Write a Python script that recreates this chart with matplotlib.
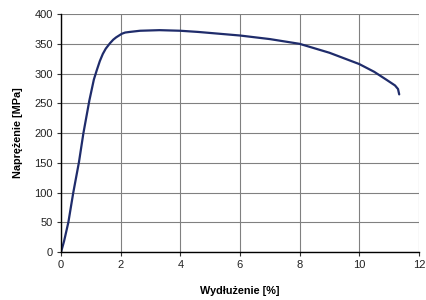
import matplotlib
matplotlib.use("Agg")
import matplotlib.pyplot as plt

plt.rcParams["font.family"] = ["Liberation Sans", "DejaVu Sans"]

# strain [%] and stress [MPa]
strain = [0.0, 0.1, 0.245, 0.41, 0.6, 0.75, 0.95, 1.1, 1.2, 1.3, 1.4, 1.5,
          1.64, 1.75, 1.85, 2.04, 2.15, 2.3, 2.65, 3.3, 4.0, 4.6, 5.3, 6.0,
          7.0, 8.0, 9.0, 10.0, 10.5, 10.9, 11.2, 11.3, 11.34]
stress = [0, 18, 50, 100, 151, 200, 255, 290, 306, 321, 333, 342,
          351, 357, 361, 367, 369, 370, 372, 373, 372, 370, 367, 364,
          358, 350, 335, 316, 303, 290, 280, 274, 265]

x_ticks = [0, 2, 4, 6, 8, 10, 12]
y_ticks = [0, 50, 100, 150, 200, 250, 300, 350, 400]

fig = plt.figure(figsize=(4.27, 3.0), dpi=100)
ax = fig.add_axes([0.143, 0.16, 0.838, 0.793])

ax.plot(strain, stress, color="#1f2c6b", lw=1.6, solid_capstyle="round",
        solid_joinstyle="round")

ax.set_xlim(0, 12)
ax.set_ylim(0, 400)
ax.set_xticks(x_ticks)
ax.set_yticks(y_ticks)
ax.grid(True, color="#808080", lw=0.8)
ax.set_axisbelow(True)

for side in ("top", "right"):
    ax.spines[side].set_visible(False)
for side in ("left", "bottom"):
    ax.spines[side].set_color("black")
    ax.spines[side].set_linewidth(1.0)

ax.tick_params(axis="both", labelsize=8, length=3, width=0.8,
               colors="#333333", labelcolor="#222222", pad=3)

ax.set_xlabel("Wydłużenie [%]", fontsize=7.8, fontweight="bold", labelpad=11)
ax.set_ylabel("Naprężenie [MPa]", fontsize=7.8, fontweight="bold", labelpad=8)

fig.savefig("out.png", dpi=100)
